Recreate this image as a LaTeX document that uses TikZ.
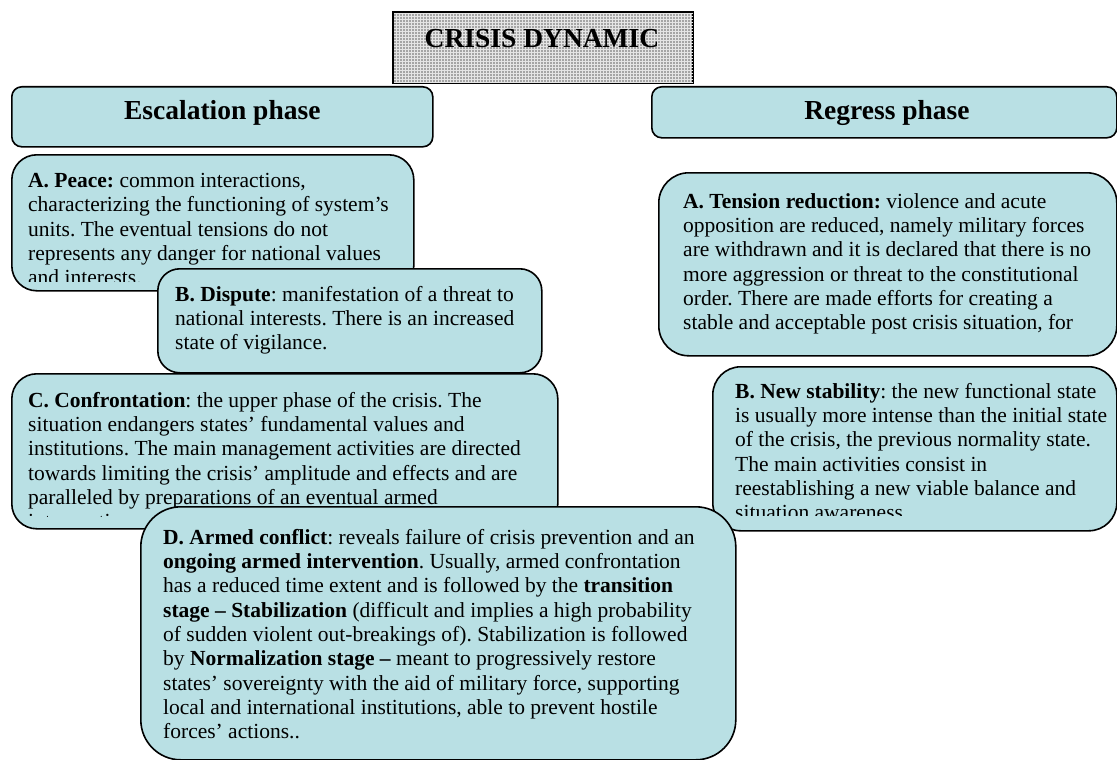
\documentclass[tikz,border=0pt]{standalone}
\usepackage{fontspec}
\setmainfont{Liberation Serif}
\usetikzlibrary{positioning,patterns}
\definecolor{boxblue}{RGB}{185,224,228}
\definecolor{titlegray}{RGB}{165,165,165}
\tikzset{
  phasebox/.style={draw, line width=1.6pt, fill=boxblue, rounded corners=10pt, anchor=north west, inner sep=0pt},
  stagebox/.style={draw, line width=1.6pt, fill=boxblue, anchor=north west, inner sep=0pt},
  stagetext/.style={anchor=north west, align=left, inner sep=0pt, font=\fontsize{21.5}{24.3}\selectfont\frenchspacing},
  headtext/.style={font=\fontsize{27.5}{30}\selectfont\bfseries}
}

\begin{document}
\begin{tikzpicture}[x=1pt, y=-1pt]
    \useasboundingbox (0,0) rectangle (1117,760);

    % Title
    \node[draw, line width=1.4pt, fill=titlegray, anchor=north west, minimum width=299pt, minimum height=70pt, inner sep=0pt] (title) at (393,12) {};
    \fill[pattern=grid, pattern color=gray!20] (title.north west) rectangle (title.south east);
    \draw[line width=1.4pt] (title.north west) rectangle (title.south east);
    \node[headtext] (titletext) at (542,39) {CRISIS DYNAMIC};

    % Phase headers
    \node[phasebox, minimum width=421pt, minimum height=60pt] (escal) at (11,86) {};
    \node[headtext] (escaltext) at (escal.center |- 0,113) {Escalation phase};
    \node[phasebox, minimum width=465pt, minimum height=51pt] (regress) at (651,86) {};
    \node[headtext] (regresstext) at (887,113) {Regress phase};

    % A. Peace
    \node[stagebox, rounded corners=25pt, minimum width=402pt, minimum height=136pt] (peace) at (11,154) {};
    \begin{scope}
      \clip (peace.north west) rectangle (413,281);
      \node[stagetext] (peacetext) at (28,173) {\textbf{A. Peace:} common interactions,\\
        characterizing the functioning of system’s\\
        units. The eventual tensions do not\\
        represents any danger for national values\\
        and interests.};
    \end{scope}

    % B. Dispute
    \node[stagebox, rounded corners=22pt, minimum width=384pt, minimum height=104pt] (dispute) at (157,268) {};
    \node[stagetext] (disputetext) at (175,286) {\textbf{B. Dispute}: manifestation of a threat to\\
      national interests. There is an increased\\
      state of vigilance.};

    % A. Tension reduction
    \node[stagebox, rounded corners=30pt, minimum width=458pt, minimum height=183pt] (tension) at (658,172) {};
    \begin{scope}
      \clip (tension.north west) rectangle (1116,348);
      \node[stagetext] (tensiontext) at (683,193) {\textbf{A. Tension reduction:} violence and acute\\
        opposition are reduced, namely military forces\\
        are withdrawn and it is declared that there is no\\
        more aggression or threat to the constitutional\\
        order. There are made efforts for creating a\\
        stable and acceptable post crisis situation, for};
    \end{scope}

    % C. Confrontation
    \node[stagebox, rounded corners=25pt, minimum width=546pt, minimum height=155pt] (confront) at (11,373) {};
    \begin{scope}
      \clip (confront.north west) rectangle (557,516);
      \node[stagetext] (confronttext) at (28,392) {\textbf{C. Confrontation}: the upper phase of the crisis. The\\
        situation endangers states’ fundamental values and\\
        institutions. The main management activities are directed\\
        towards limiting the crisis’ amplitude and effects and are\\
        paralleled by preparations of an eventual armed\\
        intervention.};
    \end{scope}

    % B. New stability
    \node[stagebox, rounded corners=28pt, minimum width=404pt, minimum height=164pt] (stable) at (712,366) {};
    \begin{scope}
      \clip (stable.north west) rectangle (1116,515);
      \node[stagetext] (stabletext) at (735,383) {\textbf{B. New stability}: the new functional state\\
        is usually more intense than the initial state\\
        of the crisis, the previous normality state.\\
        The main activities consist in\\
        reestablishing a new viable balance and\\
        situation awareness.};
    \end{scope}

    % D. Armed conflict
    \node[stagebox, rounded corners=40pt, minimum width=595pt, minimum height=253pt] (armed) at (140,506) {};
    \node[stagetext] (armedtext) at (163,529) {\textbf{D. Armed conflict}: reveals failure of crisis prevention and an\\
      \textbf{ongoing armed intervention}. Usually, armed confrontation\\
      has a reduced time extent and is followed by the \textbf{transition}\\
      \textbf{stage – Stabilization} (difficult and implies a high probability\\
      of sudden violent out-breakings of). Stabilization is followed\\
      by \textbf{Normalization stage –} meant to progressively restore\\
      states’ sovereignty with the aid of military force, supporting\\
      local and international institutions, able to prevent hostile\\
      forces’ actions..};
\end{tikzpicture}
\end{document}
